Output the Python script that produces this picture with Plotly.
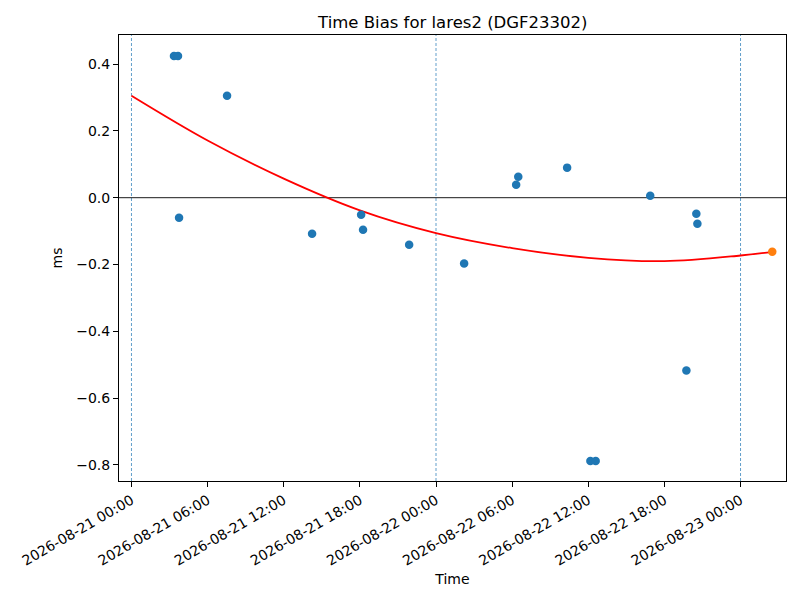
import plotly.graph_objects as go

# observed time bias (ms) per pass
obs_times = ['2026-08-21 03:21', '2026-08-21 03:40', '2026-08-21 03:45',
             '2026-08-21 07:32', '2026-08-21 14:14', '2026-08-21 18:06',
             '2026-08-21 18:15', '2026-08-21 21:53', '2026-08-22 02:13',
             '2026-08-22 06:19', '2026-08-22 06:29', '2026-08-22 10:20',
             '2026-08-22 12:10', '2026-08-22 12:35', '2026-08-22 16:53',
             '2026-08-22 19:44', '2026-08-22 20:31', '2026-08-22 20:36']
obs_bias = [0.424, 0.424, -0.060, 0.305, -0.108, -0.051, -0.096, -0.141,
            -0.197, 0.039, 0.063, 0.090, -0.788, -0.788, 0.006, -0.517,
            -0.048, -0.078]

# fitted trend
fit_times = ['2026-08-21 00:00', '2026-08-21 06:00', '2026-08-21 12:00',
             '2026-08-21 18:00', '2026-08-22 00:00', '2026-08-22 06:00',
             '2026-08-22 12:00', '2026-08-22 18:00', '2026-08-23 00:00',
             '2026-08-23 02:30']
fit_bias = [0.305, 0.171, 0.057, -0.038, -0.106, -0.151, -0.180, -0.190,
            -0.173, -0.162]

# predicted point
pred_time = ['2026-08-23 02:30']
pred_bias = [-0.162]

day_marks = ['2026-08-21 00:00', '2026-08-22 00:00', '2026-08-23 00:00']

fig = go.Figure()
fig.add_trace(go.Scatter(x=fit_times, y=fit_bias, mode='lines',
    line=dict(color='red', width=1.8, shape='spline'), showlegend=False))
fig.add_trace(go.Scatter(x=obs_times, y=obs_bias, mode='markers',
    marker=dict(color='#1f77b4', size=8.5), showlegend=False))
fig.add_trace(go.Scatter(x=pred_time, y=pred_bias, mode='markers',
    marker=dict(color='#ff7f0e', size=8.5), showlegend=False))

for d in day_marks:
    fig.add_vline(x=d, line=dict(color='#1f77b4', width=0.7, dash='3px,2px'),
                  layer='below')
fig.add_hline(y=0, line=dict(color='black', width=0.9), layer='below')

axis_style = dict(showline=True, linecolor='black', linewidth=1, mirror=True,
                  ticks='outside', ticklen=5, tickcolor='black',
                  showgrid=False, zeroline=False,
                  tickfont=dict(size=14, color='black'))

fig.update_xaxes(axis_style, type='date',
    range=['2026-08-20 23:01', '2026-08-23 03:35'],
    dtick=6 * 3600 * 1000, tick0='2026-08-21 00:00',
    tickformat='%Y-%m-%d %H:%M', tickangle=-30,
    title=dict(text='Time', font=dict(size=14, color='black'), standoff=6))
fig.update_yaxes(axis_style, range=[-0.848, 0.487],
    dtick=0.2, tickformat='.1f',
    title=dict(text='ms', font=dict(size=14, color='black'), standoff=10))

fig.update_layout(
    width=800, height=600,
    title=dict(text='Time Bias for lares2 (DGF23302)', x=0.556, xanchor='center',
               y=0.977, yanchor='middle', font=dict(size=16.5, color='black')),
    font=dict(family='DejaVu Sans', color='black'),
    plot_bgcolor='white', paper_bgcolor='white',
    margin=dict(l=111, r=22, t=27, b=127),
)

fig.write_html('out.html')
